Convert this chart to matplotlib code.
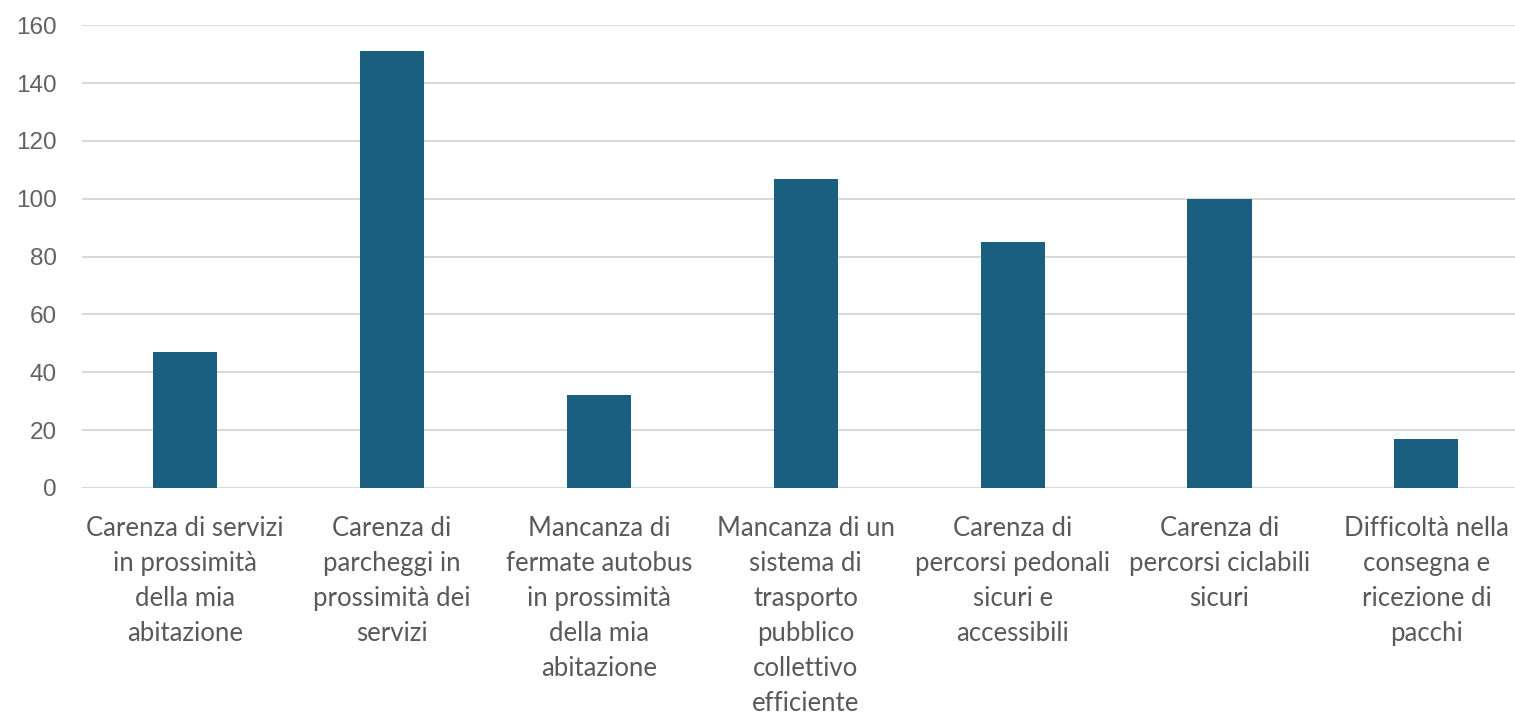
import matplotlib
matplotlib.use("Agg")
import matplotlib.pyplot as plt

categories = [
    "Carenza di servizi\nin prossimità\ndella mia\nabitazione",
    "Carenza di\nparcheggi in\nprossimità dei\nservizi",
    "Mancanza di\nfermate autobus\nin prossimità\ndella mia\nabitazione",
    "Mancanza di un\nsistema di\ntrasporto\npubblico\ncollettivo\nefficiente",
    "Carenza di\npercorsi pedonali\nsicuri e\naccessibili",
    "Carenza di\npercorsi ciclabili\nsicuri",
    "Difficoltà nella\nconsegna e\nricezione di\npacchi",
]
values = [47, 151, 32, 107, 85, 100, 17]
yticks = [0, 20, 40, 60, 80, 100, 120, 140, 160]

fig = plt.figure(figsize=(15.15, 7.13), dpi=100)
ax = fig.add_axes([0.0538, 0.3156, 0.956, 0.649])

x = list(range(len(values)))
ax.bar(x, values, width=0.31, color="#1a5f80", zorder=3)

ax.set_xlim(-0.5, len(values) - 0.5)
ax.set_ylim(0, 160)
ax.set_yticks(yticks)
ax.set_yticklabels([str(v) for v in yticks], fontsize=17.5, color="#626262",
                   family="Liberation Sans")
ax.set_xticks(x)
ax.set_xticklabels(categories, fontsize=18.5, color="#595959", family="Lato",
                   linespacing=1.5)

ax.grid(axis="y", color="#d9d9d9", linewidth=1.5, zorder=0)
ax.tick_params(axis="y", length=0, pad=18)
ax.tick_params(axis="x", length=0, pad=20)
for s in ax.spines.values():
    s.set_visible(False)

fig.savefig("out.png", dpi=100)
